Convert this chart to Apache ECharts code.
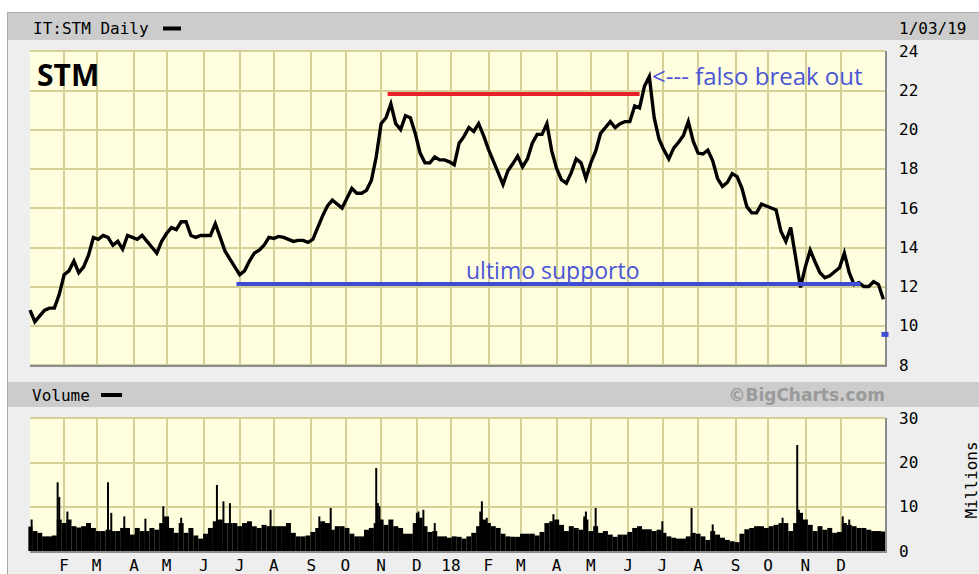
<!DOCTYPE html>
<html><head><meta charset="utf-8">
<script src="https://cdn.jsdelivr.net/npm/echarts@6/dist/echarts.min.js"></script>
<style>html,body{margin:0;padding:0;background:#fff;}#c{width:979px;height:574px;}</style>
</head><body><div id="c"></div>
<script>
// ---- axis (trading-day categories, weekdays) ----
const axisStart = '2017-01-03';
const axisEnd = '2019-01-09';
const monthLetters = ['J','F','M','A','M','J','J','A','S','O','N','D'];
const priceTicks = { min: 8, max: 24, step: 2 };
const volumeTicks = { min: 0, max: 30, step: 10 };

// ---- price readings (close), one reading every 3rd trading day from axisStart ----
const sampleStep = 3;
const priceClose = [
 10.8,10.2,10.5,10.8,10.9,10.9,11.6,12.6,12.8,13.3,
 12.7,13.0,13.6,14.5,14.4,14.6,14.5,14.1,14.3,13.9,
 14.6,14.5,14.4,14.6,14.3,14.0,13.7,14.3,14.7,15.0,
 14.9,15.3,15.3,14.6,14.5,14.6,14.6,14.6,15.2,14.5,
 13.8,13.4,13.0,12.6,12.8,13.3,13.7,13.85,14.1,14.5,
 14.45,14.55,14.5,14.4,14.3,14.35,14.35,14.25,14.4,15.0,
 15.6,16.1,16.4,16.2,16.0,16.5,17.0,16.75,16.75,16.9,
 17.4,18.6,20.3,20.6,21.3,20.3,20.0,20.7,20.6,19.8,
 18.8,18.3,18.3,18.6,18.45,18.45,18.35,18.2,19.3,19.65,
 20.1,19.9,20.3,19.7,19.0,18.4,17.8,17.2,17.9,18.25,
 18.65,18.1,18.5,19.3,19.75,19.75,20.3,18.9,18.0,17.43,
 17.26,17.8,18.5,18.3,17.5,18.3,18.9,19.8,20.1,20.4,
 20.1,20.3,20.4,20.4,21.2,21.1,22.2,22.7,20.6,19.5,
 18.95,18.5,19.05,19.35,19.7,20.4,19.4,18.8,18.75,18.95,
 18.4,17.5,17.1,17.3,17.75,17.6,17.0,16.07,15.75,15.75,
 16.2,16.1,16.0,15.9,14.8,14.3,15.0,13.5,11.95,13.0,
 13.85,13.25,12.7,12.45,12.55,12.75,12.95,13.7,12.7,12.1,
 12.2,12.0,12.0,12.25,12.1,11.35
];

// ---- volume (millions), typical level every 3rd trading day ----
const volumeBase = [
 5.5,4.5,4.1,3.3,3.3,3.5,7.1,6.3,7.1,5.6,
 5.3,5.6,6.3,5.2,4.5,4.5,4.8,4.5,4.5,5.2,
 5.2,3.7,5.2,4.5,4.5,5.2,4.8,6.3,7.8,5.2,
 4.1,6.3,4.1,5.2,3.5,2.8,3.9,5.2,6.7,7.1,
 6.3,6.3,6.3,5.6,6.3,6.7,5.6,5.2,5.9,5.6,
 5.6,5.6,5.6,6.3,4.1,3.3,3.3,3.5,4.3,5.2,
 6.7,6.3,4.8,5.6,5.6,5.2,3.9,3.3,3.3,4.8,
 5.2,6.3,7.1,5.9,7.1,5.6,5.2,3.9,3.9,6.3,
 7.5,5.6,4.3,4.5,3.3,3.3,3.0,3.3,3.2,2.8,
 3.3,4.1,5.6,7.1,6.3,5.6,5.2,3.9,3.3,3.2,
 3.2,3.9,3.9,3.9,3.5,4.3,6.3,6.7,7.1,5.9,
 4.5,5.6,5.2,4.8,7.1,4.5,5.6,4.1,4.5,3.7,
 3.2,3.7,3.7,4.3,5.2,5.6,4.9,4.9,4.5,4.8,
 4.1,3.3,3.0,2.8,2.8,3.3,4.1,3.9,3.3,2.5,
 4.5,3.7,3.0,2.5,2.2,2.0,3.9,4.9,5.2,5.6,
 5.6,5.2,5.6,5.9,6.3,6.3,4.5,6.3,8.6,7.1,
 5.9,4.5,5.6,4.8,5.2,4.1,4.3,6.3,5.9,5.6,
 5.2,5.2,4.8,4.5,4.5,4.4
];

// ---- single-day volume spikes (millions) ----
const spikeDates = [
 '2017-01-04','2017-01-26','2017-01-27','2017-02-03','2017-03-10','2017-03-14','2017-03-24',
 '2017-04-12','2017-04-27','2017-05-12','2017-06-13','2017-06-19','2017-06-23','2017-07-28',
 '2017-09-08','2017-09-19','2017-10-27','2017-10-30','2017-10-31','2017-12-01','2017-12-04',
 '2017-12-07','2017-12-18','2018-01-25','2018-01-26','2018-01-31','2018-03-29','2018-04-25',
 '2018-04-26','2018-05-04','2018-07-02','2018-07-26','2018-08-14','2018-10-12','2018-10-25',
 '2018-10-26','2018-12-04','2018-12-10'
];
const spikeValues = [
 7.1,15.5,12.2,8.9,15.5,8.6,7.8,
 7.3,10.1,7.5,14.9,11.2,10.8,9.3,
 7.8,9.7,18.7,10.8,10.1,8.6,8.9,
 9.3,6.3,8.9,11.2,7.5,8.3,7.8,
 8.9,9.7,6.7,9.7,6.0,7.5,23.9,
 9.3,7.8,7.1
];

// ---- annotations ----
const resistance = { level: 21.82, from: '2017-11-07', to: '2018-06-12' };
const support = { level: 12.12, from: '2017-06-29', to: '2018-12-19' };
const lastMarker = ['2019-01-09', 9.56];
const headerText = 'IT:STM Daily';
const headerDate = '1/03/19';

// ---------------------------------------------------------------
function weekdays(a, b) {
  const out = [];
  let t = Date.parse(a + 'T00:00:00Z');
  const e = Date.parse(b + 'T00:00:00Z');
  while (t <= e) {
    const d = new Date(t);
    const w = d.getUTCDay();
    if (w > 0 && w < 6) out.push(d.toISOString().slice(0, 10));
    t += 86400000;
  }
  return out;
}
const days = weekdays(axisStart, axisEnd);
function isMonthStart(i) {
  if (i === 0) return false;
  const v = days[i];
  if (v.slice(0, 4) === '2019') return false;
  return v.slice(0, 7) !== days[i - 1].slice(0, 7);
}
const priceData = priceClose.map((v, k) => [days[k * sampleStep], v]);
const volData = volumeBase.map((v, k) => [days[k * sampleStep], v]);
const spikeData = spikeDates.map((d, i) => [d, spikeValues[i]]);

const GRID_COLOR = '#d4d098';
const BLUE = '#3d4ed4';
const MONO = 'DejaVu Sans Mono';
const L = 30, W = 855;

function xAxisDef(gridIndex, showLabels, show) {
  return {
    type: 'category', gridIndex, data: days, boundaryGap: false, show: show !== false,
    axisLine: { show: false }, axisTick: { show: false },
    axisLabel: showLabels ? {
      show: true, interval: (i) => isMonthStart(i), margin: 6,
      fontFamily: MONO, fontSize: 16, color: '#000',
      formatter: (v) => { const m = +v.slice(5, 7); return m === 1 ? v.slice(2, 4) : monthLetters[m - 1]; }
    } : { show: false },
    splitLine: { show: true, interval: (i) => isMonthStart(i), lineStyle: { color: GRID_COLOR, width: 2 } }
  };
}

const chart = echarts.init(document.getElementById('c'), null, { renderer: 'svg' });
chart.setOption({
  animation: false,
  backgroundColor: '#ffffff',
  grid: [
    { left: L, top: 51, width: W, height: 314, show: true, backgroundColor: '#ffffe0', borderWidth: 0 },
    { left: L, top: 418, width: W, height: 133, show: true, backgroundColor: '#ffffe0', borderWidth: 0 }
  ],
  xAxis: [ xAxisDef(0, false), xAxisDef(1, true), Object.assign(xAxisDef(1, false, false), { splitLine: { show: false } }) ],
  yAxis: [
    { type: 'value', gridIndex: 0, position: 'right', min: priceTicks.min, max: priceTicks.max, interval: priceTicks.step,
      axisLine: { show: false }, axisTick: { show: false },
      axisLabel: { margin: 14, fontFamily: MONO, fontSize: 16, color: '#000' },
      splitLine: { lineStyle: { color: GRID_COLOR, width: 2 } } },
    { type: 'value', gridIndex: 1, position: 'right', min: volumeTicks.min, max: volumeTicks.max, interval: volumeTicks.step,
      axisLine: { show: false }, axisTick: { show: false },
      axisLabel: { margin: 14, fontFamily: MONO, fontSize: 16, color: '#000' },
      splitLine: { lineStyle: { color: GRID_COLOR, width: 2 } } }
  ],
  series: [
    { type: 'line', xAxisIndex: 0, yAxisIndex: 0, data: priceData, symbol: 'none',
      lineStyle: { color: '#000', width: 3.4, join: 'miter' }, z: 3,
      markLine: { silent: true, symbol: 'none', label: { show: false }, animation: false,
        data: [
          [{ coord: [days.indexOf(resistance.from), resistance.level], lineStyle: { color: '#e8202a', width: 4, type: 'solid' } },
           { coord: [days.indexOf(resistance.to), resistance.level] }],
          [{ coord: [days.indexOf(support.from), support.level], lineStyle: { color: BLUE, width: 4, type: 'solid' } },
           { coord: [days.indexOf(support.to), support.level] }]
        ] } },
    { type: 'scatter', xAxisIndex: 0, yAxisIndex: 0, data: [lastMarker], symbol: 'rect', symbolSize: [7, 5],
      itemStyle: { color: BLUE, opacity: 1 }, clip: false, silent: true, z: 6 },
    { type: 'bar', xAxisIndex: 1, yAxisIndex: 1, data: volData, barWidth: 5, itemStyle: { color: '#000' }, silent: true },
    { type: 'bar', xAxisIndex: 2, yAxisIndex: 1, data: spikeData, barWidth: 2, itemStyle: { color: '#000' }, silent: true }
  ],
  graphic: [
    { type: 'rect', z: -10, shape: { x: 7.5, y: 12.5, width: 990, height: 580 }, style: { fill: '#eeeeee', stroke: '#a8a8a8', lineWidth: 1 } },
    { type: 'rect', z: -9, shape: { x: 8, y: 13, width: 990, height: 27 }, style: { fill: '#cccccc' } },
    { type: 'rect', z: -9, shape: { x: 8, y: 382, width: 990, height: 25 }, style: { fill: '#cccccc' } },
    { type: 'text', x: 33, y: 28, style: { text: headerText, font: '16px "DejaVu Sans Mono"', fill: '#000', textVerticalAlign: 'middle' } },
    { type: 'rect', shape: { x: 163, y: 26.5, width: 18, height: 4 }, style: { fill: '#000' } },
    { type: 'text', x: 899, y: 28, style: { text: headerDate, font: '16px "DejaVu Sans Mono"', fill: '#000', textVerticalAlign: 'middle' } },
    { type: 'text', x: 32, y: 395, style: { text: 'Volume', font: '16px "DejaVu Sans Mono"', fill: '#000', textVerticalAlign: 'middle' } },
    { type: 'rect', shape: { x: 101, y: 393, width: 21, height: 4 }, style: { fill: '#000' } },
    { type: 'text', x: 885, y: 395, style: { text: '©BigCharts.com', font: 'bold 17px "DejaVu Sans"', fill: '#9a9a9a', textAlign: 'right', textVerticalAlign: 'middle' } },
    { type: 'text', x: 971, y: 480, rotation: Math.PI / 2, style: { text: 'Millions', font: '16px "DejaVu Sans Mono"', fill: '#000', textAlign: 'center', textVerticalAlign: 'middle' } },
    { type: 'text', x: 37, y: 74, z: 10, style: { text: 'STM', font: 'bold 30px "Open Sans"', fill: '#000', textVerticalAlign: 'middle' } },
    { type: 'text', x: 652, y: 75, z: 10, style: { text: '<--- falso break out', font: '24px "Open Sans"', fill: '#4b55d6', textVerticalAlign: 'middle' } },
    { type: 'text', x: 466, y: 270, z: 10, style: { text: 'ultimo supporto', font: '23px "Open Sans"', fill: '#4b55d6', textVerticalAlign: 'middle' } },
    { type: 'rect', z: 5, shape: { x: 30, y: 365, width: 857, height: 2 }, style: { fill: '#8c8c8c' } },
    { type: 'rect', z: 5, shape: { x: 885, y: 51, width: 2, height: 316 }, style: { fill: '#8c8c8c' } },
    { type: 'rect', z: 5, shape: { x: 30, y: 551, width: 857, height: 2 }, style: { fill: '#8c8c8c' } },
    { type: 'rect', z: 5, shape: { x: 885, y: 418, width: 2, height: 135 }, style: { fill: '#8c8c8c' } }
  ]
});
</script></body></html>
